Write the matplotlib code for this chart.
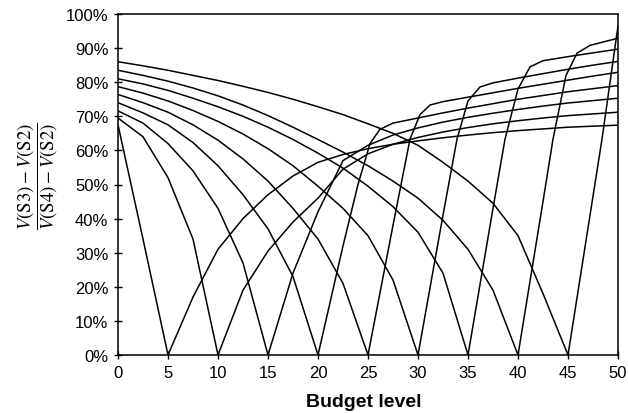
import numpy as np
import matplotlib
matplotlib.use('Agg')
import matplotlib.pyplot as plt

# budget levels and ratio values (%) for each curve; curve k reaches 0 at budget k
budget_05 = [0, 2.5, 5, 7.5, 10, 12.5, 15, 17.5, 20, 22.5, 25, 27.5, 30,
             32.5, 35, 37.5, 40, 42.5, 45, 47.5, 50]
ratio_05 = [67.5, 34, 0, 17, 31, 40, 47, 52.5, 56.5, 58.8, 60.5, 61.8, 62.8,
            63.7, 64.5, 65.2, 65.8, 66.3, 66.8, 67.1, 67.4]

budget_10 = [0, 2.5, 5, 7.5, 10, 12.5, 15, 17.5, 20, 22.5, 25, 27.5, 30,
             32.5, 35, 37.5, 40, 42.5, 45, 47.5, 50]
ratio_10 = [69.5, 64, 52, 34, 0, 19, 30.5, 39, 46, 54.5, 59, 61.8, 63.8,
            65.4, 66.7, 67.8, 68.7, 69.5, 70.2, 70.7, 71.2]

budget_15 = [0, 2.5, 5, 7.5, 10, 12.5, 15, 17.5, 20, 22.5, 25, 27.5, 30,
             32.5, 35, 37.5, 40, 42.5, 45, 47.5, 50]
ratio_15 = [71.6, 68, 62, 54, 43, 27, 0, 24, 42, 57, 61.5, 64.5, 66.6,
            68.3, 69.7, 70.9, 72, 73, 73.9, 74.6, 75.3]

budget_20 = [0, 2.5, 5, 7.5, 10, 12.5, 15, 17.5, 20, 22.5, 24, 25.2, 26.2,
             27.5, 30, 32.5, 35, 37.5, 40, 42.5, 45, 47.5, 50]
ratio_20 = [74, 71, 67.5, 62.3, 55.5, 47, 37, 23, 0, 32, 50, 62, 66.2,
            68, 69.5, 71, 72.4, 73.7, 75, 76.1, 77.2, 78.1, 79]

budget_25 = [0, 2.5, 5, 7.5, 10, 12.5, 15, 17.5, 20, 22.5, 25, 27.5, 29.2,
             30.2, 31.2, 32.5, 35, 37.5, 40, 42.5, 45, 47.5, 50]
ratio_25 = [76.4, 74, 71.2, 67.5, 63, 57.5, 51, 43, 34, 21, 0, 38, 63.3,
            70.5, 73.3, 74.3, 75.6, 76.9, 78.2, 79.4, 80.6, 81.8, 82.9]

budget_30 = [0, 2.5, 5, 7.5, 10, 12.5, 15, 17.5, 20, 22.5, 25, 27.5, 30,
             32.5, 33.9, 35, 36.2, 37.5, 40, 42.5, 45, 47.5, 50]
ratio_30 = [78.7, 76.8, 74.5, 71.7, 68.5, 64.8, 60.5, 55.5, 49.5, 43, 35,
            22, 0, 41, 63.3, 74.5, 78.6, 79.8, 81.2, 82.5, 83.8, 85, 86.1]

budget_35 = [0, 2.5, 5, 7.5, 10, 12.5, 15, 17.5, 20, 22.5, 25, 27.5, 30,
             32.5, 35, 37.5, 38.7, 40, 41.2, 42.5, 45, 47.5, 50]
ratio_35 = [81, 79.5, 77.6, 75.3, 72.8, 70, 66.8, 63.2, 59.2, 54.8, 49.5,
            43.5, 36, 24, 0, 43, 63.3, 78, 84.5, 86.3, 87.5, 88.6, 89.7]

budget_40 = [0, 2.5, 5, 7.5, 10, 12.5, 15, 17.5, 20, 22.5, 25, 27.5, 30,
             32.5, 35, 37.5, 40, 42.5, 43.5, 44.8, 45.9, 47.2, 50]
ratio_40 = [83.5, 82, 80.3, 78.3, 76, 73.3, 70.2, 66.8, 63.2, 59.5, 55.5,
            51, 46, 39.5, 31, 19, 0, 45, 63.3, 82, 88.5, 90.8, 92.9]

budget_45 = [0, 2.5, 5, 7.5, 10, 12.5, 15, 17.5, 20, 22.5, 25, 27.5, 30,
             32.5, 35, 37.5, 40, 42.5, 45, 48.4, 50]
ratio_45 = [86, 84.8, 83.5, 82, 80.5, 78.8, 77, 75, 72.8, 70.5, 67.8,
            65, 61.5, 56.5, 51, 44.5, 35, 18, 0, 63.3, 96.5]

budgets = [budget_05, budget_10, budget_15, budget_20, budget_25,
           budget_30, budget_35, budget_40, budget_45]
ratios = [ratio_05, ratio_10, ratio_15, ratio_20, ratio_25,
          ratio_30, ratio_35, ratio_40, ratio_45]

plt.rcParams['font.family'] = ['Liberation Sans', 'DejaVu Sans']
plt.rcParams['mathtext.fontset'] = 'stix'

fig = plt.figure(figsize=(6.28, 4.14), dpi=100)
ax = fig.add_axes([118 / 628, 1 - 356 / 414, 500 / 628, 341 / 414])

for bx, ry in zip(budgets, ratios):
    ax.plot(bx, np.array(ry) / 100, color='black', lw=1.1)

ax.set_xlim(0, 50)
ax.set_ylim(0, 1)
ax.set_xticks(range(0, 51, 5))
ax.set_yticks(np.arange(0, 1.01, 0.1))
ax.set_yticklabels(['%d%%' % v for v in range(0, 101, 10)])
ax.tick_params(direction='inout', length=6, width=1, labelsize=12, pad=4)
for s in ax.spines.values():
    s.set_linewidth(1.1)

fig.text(0.58, 0.027, 'Budget level', fontsize=14, fontweight='bold',
         ha='center', va='center')
fig.text(0.06, 0.574,
         r'$\dfrac{V(\mathrm{S3})-V(\mathrm{S2})}{V(\mathrm{S4})-V(\mathrm{S2})}$',
         fontsize=13.5, rotation=90, ha='center', va='center')

fig.savefig('out.png', dpi=100)
